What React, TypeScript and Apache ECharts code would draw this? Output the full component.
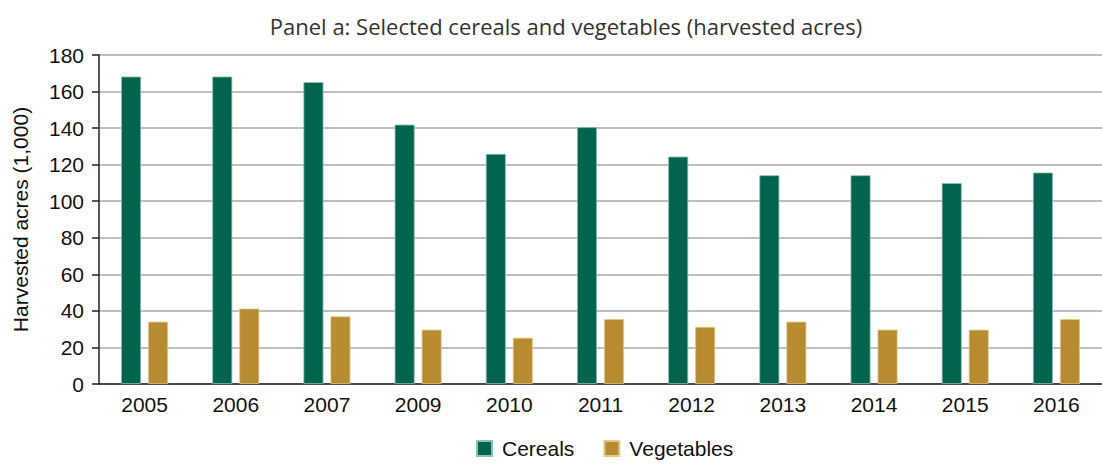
import React, { useEffect, useRef } from "react";
import * as echarts from "echarts";

const years = ["2005", "2006", "2007", "2009", "2010", "2011", "2012", "2013", "2014", "2015", "2016"];
const cereals = [168.2, 168.2, 165.2, 141.9, 125.9, 140.5, 124.4, 114.2, 114.2, 109.9, 115.7];
const vegetables = [34.1, 41.3, 37.0, 29.7, 25.3, 35.5, 31.2, 34.1, 29.7, 29.7, 35.5];
const yTicks = { min: 0, max: 180, interval: 20 };

const sans = "'Liberation Sans', Arial, sans-serif";

export default function App() {
  const ref = useRef<HTMLDivElement>(null);
  useEffect(() => {
    const chart = echarts.init(ref.current!, null, { renderer: "svg" });
    chart.setOption({
      animation: false,
      title: {
        text: "Panel a: Selected cereals and vegetables (harvested acres)",
        left: 561,
        top: 10,
        textAlign: "center",
        textStyle: { fontFamily: "'Open Sans'", fontWeight: "normal", fontSize: 22, color: "#333" },
      },
      legend: {
        bottom: 0,
        left: 471,
        itemWidth: 15,
        itemHeight: 15,
        itemGap: 29,
        icon: "rect",
        textStyle: { fontFamily: sans, fontSize: 21, color: "#111", padding: [0, 0, 0, 5] },
        data: ["Cereals", "Vegetables"],
      },
      grid: { left: 99, top: 55, bottom: 80, right: -9, containLabel: false },
      xAxis: {
        type: "category",
        data: years,
        axisLine: { lineStyle: { color: "#222", width: 1.5 } },
        axisTick: { show: false },
        axisLabel: { fontFamily: sans, fontSize: 21, color: "#111", margin: 10 },
      },
      yAxis: {
        type: "value",
        min: yTicks.min,
        max: yTicks.max,
        interval: yTicks.interval,
        name: "Harvested acres (1,000)",
        nameLocation: "middle",
        nameGap: 68,
        nameTextStyle: { fontFamily: sans, fontSize: 21, color: "#111" },
        axisLine: { show: true, lineStyle: { color: "#222", width: 1.5 } },
        axisTick: { show: true, length: 7, lineStyle: { color: "#222", width: 1.5 } },
        axisLabel: { fontFamily: sans, fontSize: 21, color: "#111", margin: 15 },
        splitLine: { lineStyle: { color: "#aaa", width: 1.5 } },
      },
      series: [
        {
          name: "Cereals",
          type: "bar",
          data: cereals,
          barWidth: 20,
          barGap: "35%",
          itemStyle: { color: "#02634f", borderColor: "#8cc2b4", borderWidth: 0.8 },
        },
        {
          name: "Vegetables",
          type: "bar",
          data: vegetables,
          barWidth: 20,
          itemStyle: { color: "#b78b2f", borderColor: "#e2c98e", borderWidth: 0.8 },
        },
      ],
    });
    return () => chart.dispose();
  }, []);
  return (
    <div
      ref={ref}
      style={{ position: "absolute", left: 0, top: 0, width: 1102, height: 464, background: "#fff" }}
    />
  );
}
